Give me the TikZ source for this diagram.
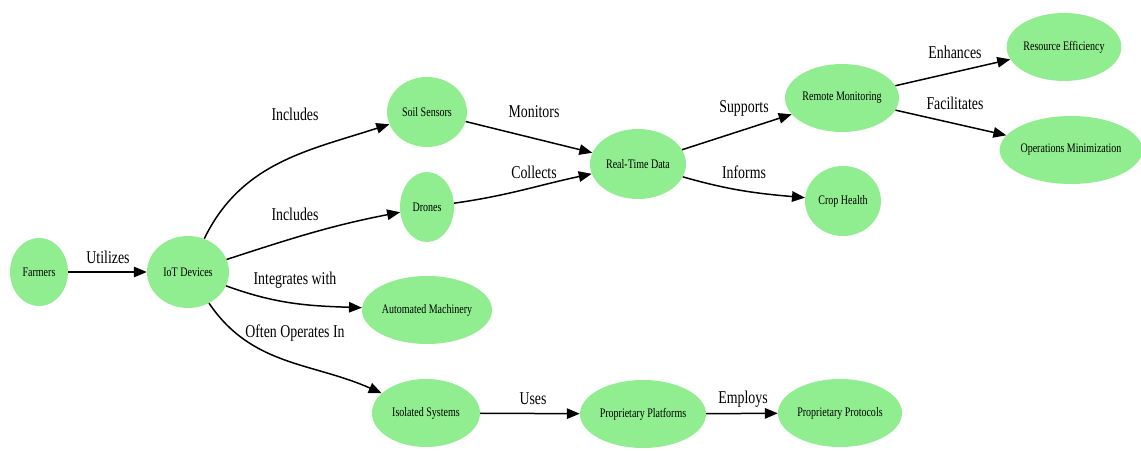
\documentclass[tikz,border=0pt]{standalone}
\usepackage{fontspec}
\setmainfont{Liberation Serif}[FakeStretch=0.77]
\usetikzlibrary{shapes.geometric,arrows.meta}
\definecolor{nodegreen}{HTML}{90EE90}
\begin{document}
\begin{tikzpicture}[x=1pt,y=1pt,
  ent/.style={ellipse,fill=nodegreen,draw=none,inner sep=0pt,
    font=\fontsize{13}{15}\selectfont},
  rel/.style={-{Triangle[length=13pt,width=10.5pt]},line width=1.5pt,black},
  lbl/.style={font=\fontsize{18}{20}\selectfont,inner sep=0pt}]
\useasboundingbox (0,0) rectangle (1141,450);

% entities
\node[ent,minimum width=58pt,minimum height=68pt]  (farmers) at (39,178)  {Farmers};
\node[ent,minimum width=82pt,minimum height=72pt]  (iot)     at (188,178) {IoT Devices};
\node[ent,minimum width=80pt,minimum height=70pt]  (soil)    at (427,338) {Soil Sensors};
\node[ent,minimum width=54pt,minimum height=70pt]  (drones)  at (427,243) {Drones};
\node[ent,minimum width=130pt,minimum height=68pt] (auto)    at (427,140) {Automated Machinery};
\node[ent,minimum width=108pt,minimum height=68pt] (iso)     at (426,37)  {Isolated Systems};
\node[ent,minimum width=96pt,minimum height=70pt]  (rtd)     at (638,286) {Real-Time Data};
\node[ent,minimum width=114pt,minimum height=68pt] (remote)  at (842,352) {Remote Monitoring};
\node[ent,minimum width=76pt,minimum height=70pt]  (crop)    at (843,249) {Crop Health};
\node[ent,minimum width=106pt,minimum height=68pt] (reseff)  at (1064,403) {Resource Efficiency};
\node[ent,minimum width=138pt,minimum height=68pt] (opmin)   at (1071,300) {Operations Minimization};
\node[ent,minimum width=126pt,minimum height=68pt] (plat)    at (643,36)  {Proprietary Platforms};
\node[ent,minimum width=124pt,minimum height=68pt] (prot)    at (840,37)  {Proprietary Protocols};

% relations
\draw[rel] (farmers) -- (iot);
\draw[rel] (iot) to[out=64,in=198] (soil);
\draw[rel] (iot) to[out=18,in=191] (drones);
\draw[rel] (iot) to[out=-20,in=178] (auto);
\draw[rel] (iot) to[out=-56,in=156] (iso);
\draw[rel] (soil) -- (rtd);
\draw[rel] (drones) to[out=8,in=192] (rtd);
\draw[rel] (rtd) -- (remote);
\draw[rel] (rtd) to[out=-16,in=175] (crop);
\draw[rel] (remote) -- (reseff);
\draw[rel] (remote) -- (opmin);
\draw[rel] (iso) -- (plat);
\draw[rel] (plat) -- (prot);

% relation labels
\node[lbl] (lutil) at (108,193) {Utilizes};
\node[lbl] (linc1) at (295,336) {Includes};
\node[lbl] (linc2) at (295,236) {Includes};
\node[lbl] (lint)  at (295,170) {Integrates with};
\node[lbl] (loft)  at (295,117) {Often Operates In};
\node[lbl] (lmon)  at (534,338) {Monitors};
\node[lbl] (lcol)  at (534,278) {Collects};
\node[lbl] (lsup)  at (744,342) {Supports};
\node[lbl] (linf)  at (744,278) {Informs};
\node[lbl] (lenh)  at (955,398) {Enhances};
\node[lbl] (lfac)  at (955,347) {Facilitates};
\node[lbl] (luse)  at (533,51)  {Uses};
\node[lbl] (lemp)  at (743,51)  {Employs};
\end{tikzpicture}
\end{document}
